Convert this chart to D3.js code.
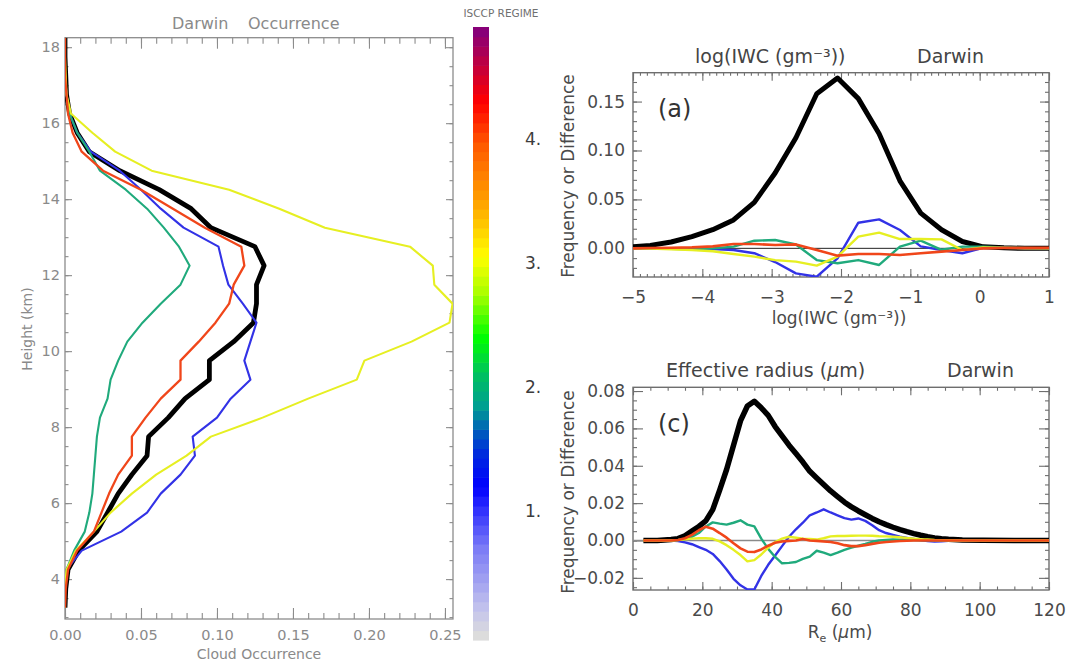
<!DOCTYPE html>
<html>
<head>
<meta charset="utf-8">
<script src="https://cdn.jsdelivr.net/npm/d3@7"></script>
<style>
  html, body { margin: 0; padding: 0; background: #fff; }
  svg { display: block; font-family: "DejaVu Sans", sans-serif; }
</style>
</head>
<body>
<svg id="fig" width="1074" height="662"></svg>
<script>
// ---------------- Cloud occurrence profiles (left panel) ----------------
const heights = [18.25, 17.75, 17.25, 16.75, 16.25, 15.75, 15.25, 14.75, 14.25, 13.75, 13.25,
                 12.75, 12.25, 11.75, 11.25, 10.75, 10.25, 9.75, 9.25, 8.75, 8.25,
                 7.75, 7.25, 6.75, 6.25, 5.75, 5.25, 4.75, 4.25, 3.75, 3.25];
const occAll     = [0, 0, 0.0005, 0.001, 0.003, 0.008, 0.016, 0.036, 0.062, 0.083, 0.096,
                    0.125, 0.131, 0.126, 0.126, 0.124, 0.111, 0.095, 0.095, 0.079, 0.068,
                    0.055, 0.054, 0.044, 0.035, 0.028, 0.021, 0.009, 0.002, 0.0005, 0];
const occRegime1 = [0, 0, 0, 0.001, 0.003, 0.008, 0.017, 0.036, 0.050, 0.063, 0.078,
                    0.101, 0.104, 0.1075, 0.117, 0.126, 0.122, 0.118, 0.122, 0.109, 0.100,
                    0.084, 0.0855, 0.076, 0.063, 0.054, 0.037, 0.011, 0.001, 0, 0];
const occRegime2 = [0, 0, 0, 0.001, 0.003, 0.008, 0.016, 0.023, 0.040, 0.054, 0.065,
                    0.075, 0.082, 0.076, 0.063, 0.051, 0.041, 0.035, 0.030, 0.028, 0.023,
                    0.021, 0.020, 0.019, 0.018, 0.016, 0.013, 0.006, 0.001, 0, 0];
const occRegime3 = [0, 0, 0.0005, 0.001, 0.004, 0.018, 0.033, 0.057, 0.108, 0.141, 0.171,
                    0.227, 0.242, 0.243, 0.255, 0.253, 0.228, 0.197, 0.192, 0.160, 0.130,
                    0.096, 0.080, 0.060, 0.044, 0.030, 0.019, 0.007, 0.001, 0, 0];
const occRegime4 = [0, 0, 0, 0.001, 0.002, 0.005, 0.011, 0.025, 0.050, 0.071, 0.092,
                    0.116, 0.118, 0.111, 0.108, 0.099, 0.088, 0.076, 0.076, 0.063, 0.053,
                    0.044, 0.044, 0.035, 0.029, 0.024, 0.019, 0.008, 0.002, 0.0005, 0];
const occTicks    = [0, 0.05, 0.10, 0.15, 0.20, 0.25];
const heightTicks = [4, 6, 8, 10, 12, 14, 16, 18];

// ---------------- log(IWC) histogram, panel (a) ----------------
const iwcBins  = [-5.0, -4.75, -4.45, -4.15, -3.85, -3.55, -3.25, -2.95, -2.65, -2.35, -2.05,
                  -1.75, -1.45, -1.15, -0.85, -0.55, -0.25, 0.05, 0.35, 0.65, 1.0];
const iwcAll   = [0.0017, 0.003, 0.0065, 0.012, 0.019, 0.029, 0.047, 0.077, 0.113, 0.158, 0.174,
                  0.153, 0.117, 0.069, 0.036, 0.019, 0.007, 0.0015, 0.0005, 0, 0];
const iwcDiff1 = [0, 0, 0, 0, -0.0008, -0.0017, -0.005, -0.014, -0.0256, -0.029, -0.0102,
                  0.0262, 0.0296, 0.0187, 0.002, -0.0017, -0.005, 0.0005, 0.0005, 0, 0];
const iwcDiff2 = [0, 0, -0.0005, -0.001, 0, 0.0017, 0.0078, 0.0085, 0.004, -0.012, -0.0153,
                  -0.012, -0.017, 0.0017, 0.0078, -0.0015, 0.0017, 0.0017, 0.001, 0.0005, 0];
const iwcDiff3 = [0, -0.0003, -0.001, -0.0018, -0.003, -0.0058, -0.0085, -0.012, -0.0136, -0.0177, -0.0085,
                  0.012, 0.016, 0.0095, 0.0095, 0.0092, -0.0017, 0.001, 0.0005, 0, 0];
const iwcDiff4 = [0, 0.0003, 0.0006, 0.001, 0.002, 0.0044, 0.0044, 0.0034, 0.004, -0.0017, -0.0075,
                  -0.0058, -0.0058, -0.0068, -0.0051, -0.0034, -0.0017, 0, 0.0005, 0.0005, 0.0005];
const iwcTicks     = [-5, -4, -3, -2, -1, 0, 1];
const iwcFreqTicks = [0, 0.05, 0.10, 0.15];

// ---------------- Effective radius histogram, panel (c) ----------------
const reBins  = [3, 7, 11, 13, 15, 17, 19, 21, 23, 25, 27, 29, 31, 33, 35, 37, 39, 41, 43, 45,
                 47, 49, 51, 53, 55, 57, 59, 61, 63, 65, 67, 69, 71, 73, 75, 77, 79, 81, 83, 85,
                 87, 89, 91, 95, 101, 110, 120];
const reAll   = [0, 0, 0.0005, 0.001, 0.0025, 0.005, 0.0075, 0.0105, 0.0165, 0.027, 0.038, 0.051,
                 0.064, 0.072, 0.0745, 0.071, 0.067, 0.061, 0.056, 0.051, 0.0465, 0.042, 0.037,
                 0.0335, 0.030, 0.0265, 0.0235, 0.0205, 0.018, 0.0158, 0.0138, 0.0118, 0.010,
                 0.0085, 0.0071, 0.0058, 0.0047, 0.0037, 0.0028, 0.002, 0.0014, 0.001, 0.0007,
                 0.0003, 0.0001, 0, 0];
const reDiff1 = [0, 0, 0, -0.0003, -0.001, -0.002, -0.0035, -0.005, -0.0072, -0.011, -0.0155, -0.0205,
                 -0.024, -0.0262, -0.0262, -0.019, -0.013, -0.008, -0.003, 0.002, 0.006, 0.0095, 0.0135,
                 0.015, 0.0167, 0.015, 0.0135, 0.012, 0.0112, 0.0118, 0.0105, 0.0082, 0.0055,
                 0.004, 0.003, 0.002, 0.0014, 0.0008, 0.0002, -0.0003, -0.0005, -0.0004, -0.0002,
                 0, 0, 0, 0];
const reDiff2 = [0, 0, 0, 0.0003, 0.0008, 0.002, 0.004, 0.0075, 0.0097, 0.009, 0.0085, 0.0095,
                 0.0108, 0.0085, 0.0076, 0.001, -0.0045, -0.0088, -0.0122, -0.012, -0.0115, -0.0098,
                 -0.0086, -0.0055, -0.0065, -0.0078, -0.0065, -0.005, -0.0038, -0.0028, -0.0018,
                 -0.0007, 0, 0.0003, 0.0005, 0.0004, 0.0003, 0.0002, 0.0001, 0.0001, 0, 0, 0,
                 0, 0, 0, 0];
const reDiff3 = [0, 0, 0, 0.0002, 0.0006, 0.001, 0.0012, 0.0012, 0.0009, -0.0005, -0.0025, -0.005,
                 -0.0078, -0.0112, -0.0105, -0.0075, -0.0038, -0.0008, 0.001, 0.002, 0.0015, 0.001,
                 0.0008, 0.0005, 0.0012, 0.0022, 0.0024, 0.0024, 0.0025, 0.0026, 0.0026, 0.0025,
                 0.0023, 0.0022, 0.002, 0.0017, 0.0013, 0.001, 0.0007, 0.0005, 0.0003, 0.0002,
                 0.0001, 0, 0, 0, 0];
const reDiff4 = [0, 0, 0, 0.0003, 0.0012, 0.003, 0.0055, 0.0074, 0.0063, 0.004, 0.0015, -0.0015,
                 -0.0042, -0.006, -0.0062, -0.0048, -0.0028, -0.0012, -0.0005, -0.0002, 0, 0.0008,
                 0, -0.0002, -0.0005, -0.0008, -0.0015, -0.0025, -0.003, -0.003, -0.0025, -0.0018,
                 -0.0012, -0.0008, -0.0005, -0.0003, -0.0001, 0, 0, 0, 0, 0, 0, 0, 0, 0, 0];
const reTicks     = [0, 20, 40, 60, 80, 100, 120];
const reFreqTicks = [-0.02, 0, 0.02, 0.04, 0.06, 0.08];

// ---------------- ISCCP regime colour bar ----------------
const regimeTicks  = [1, 2, 3, 4];
const regimeStops  = [0, 0.2, 0.7, 0.95, 1.2, 1.45, 1.6, 1.85, 2.1, 2.4, 2.75, 3.05, 3.5, 3.95, 4.3, 4.6, 4.9];
const regimeColors = ["#dcdcdc", "#c4c4ec", "#7c7cf6", "#4040fc", "#0000ff", "#0028e0", "#0050c4",
                      "#00a090", "#00c060", "#00ff00", "#a8ff00", "#ffff00", "#ffa000", "#ff5a00",
                      "#ff0000", "#c00040", "#800080"];

const colAll = "#000000", col1 = "#3232e6", col2 = "#20aa7c", col3 = "#e6ef22", col4 = "#f0461a";

const svg = d3.select("#fig");
const defs = svg.append("defs");

function styleAxis(sel, color, width, textColor, fontSize) {
  sel.select(".domain").remove();
  sel.selectAll(".tick line").attr("stroke", color).attr("stroke-width", width);
  sel.selectAll(".tick text").attr("fill", textColor).attr("font-size", fontSize)
     .attr("font-family", '"DejaVu Sans", sans-serif');
}

function minorValues(domain, step) {
  const lo = Math.ceil(domain[0] / step - 1e-6) * step;
  return d3.range(lo, domain[1] + 1e-9, step);
}

// Frame with inward ticks on all four sides; labels on bottom and left.
function buildPanel(cfg) {
  const x = d3.scaleLinear().domain(cfg.xDomain).range([cfg.left, cfg.right]);
  const y = d3.scaleLinear().domain(cfg.yDomain).range([cfg.bottom, cfg.top]);
  const g = svg.append("g");

  defs.append("clipPath").attr("id", cfg.id + "-clip")
    .append("rect").attr("x", cfg.left).attr("y", cfg.top)
    .attr("width", cfg.right - cfg.left).attr("height", cfg.bottom - cfg.top);

  const xMin = minorValues(cfg.xDomain, cfg.xMinorStep);
  const yMin = minorValues(cfg.yDomain, cfg.yMinorStep);
  const ax = (gen, tr, vals, len, fmt, pad) => {
    const a = gen.tickValues(vals).tickSize(-len).tickPadding(pad || 0);
    if (fmt) a.tickFormat(fmt); else a.tickFormat("");
    g.append("g").attr("transform", tr).call(a)
      .call(s => styleAxis(s, cfg.axisColor, cfg.tickWidth, cfg.textColor, cfg.tickFont));
  };
  // minor ticks
  ax(d3.axisBottom(x), `translate(0,${cfg.bottom})`, xMin, cfg.xMinorLen);
  ax(d3.axisTop(x),    `translate(0,${cfg.top})`,    xMin, cfg.xMinorLen);
  ax(d3.axisLeft(y),   `translate(${cfg.left},0)`,   yMin, cfg.yMinorLen);
  ax(d3.axisRight(y),  `translate(${cfg.right},0)`,  yMin, cfg.yMinorLen);
  // major ticks
  ax(d3.axisBottom(x), `translate(0,${cfg.bottom})`, cfg.xTicks, cfg.xMajorLen, cfg.xFormat, cfg.xPad);
  ax(d3.axisTop(x),    `translate(0,${cfg.top})`,    cfg.xTicks, cfg.xMajorLen);
  ax(d3.axisLeft(y),   `translate(${cfg.left},0)`,   cfg.yTicks, cfg.yMajorLen, cfg.yFormat, cfg.yPad);
  ax(d3.axisRight(y),  `translate(${cfg.right},0)`,  cfg.yTicks, cfg.yMajorLen);

  g.append("rect").attr("x", cfg.left).attr("y", cfg.top)
    .attr("width", cfg.right - cfg.left).attr("height", cfg.bottom - cfg.top)
    .attr("fill", "none").attr("stroke", cfg.axisColor).attr("stroke-width", cfg.frameWidth);

  const plot = svg.append("g").attr("clip-path", `url(#${cfg.id}-clip)`);
  return { x, y, g, plot };
}

// ---------------- Left panel: occurrence vs height ----------------
const L = buildPanel({
  id: "occ", left: 65, right: 453, top: 37.7, bottom: 619,
  xDomain: [0, 0.2553], yDomain: [2.95, 18.25],
  xTicks: occTicks, yTicks: heightTicks,
  xFormat: d3.format(".2f"), yFormat: d3.format("d"),
  xMinorStep: 0.01, yMinorStep: 0.5,
  xMajorLen: 11, xMinorLen: 6, yMajorLen: 7, yMinorLen: 3.5,
  xPad: 11, yPad: 5,
  axisColor: "#8c8c8c", textColor: "#8a8a8a", tickFont: 14.5, tickWidth: 1.1, frameWidth: 1.3
});
const profile = d3.line().x(d => L.x(d[0])).y(d => L.y(d[1]));
[[occAll, colAll, 4.8], [occRegime1, col1, 2.1], [occRegime2, col2, 2.1],
 [occRegime3, col3, 2.1], [occRegime4, col4, 2.3]].forEach(([vals, c, w]) => {
  L.plot.append("path").datum(vals.map((v, i) => [v, heights[i]]))
    .attr("d", profile).attr("fill", "none").attr("stroke", c).attr("stroke-width", w)
    .attr("stroke-linejoin", "round");
});
svg.append("text").attr("x", 172).attr("y", 29).attr("font-size", 16).attr("fill", "#8a8a8a").text("Darwin");
svg.append("text").attr("x", 248).attr("y", 29).attr("font-size", 16).attr("fill", "#8a8a8a").text("Occurrence");
svg.append("text").attr("x", 259).attr("y", 659).attr("text-anchor", "middle")
  .attr("font-size", 14).attr("fill", "#8a8a8a").text("Cloud Occurrence");
svg.append("text").attr("transform", "translate(32,329) rotate(-90)").attr("text-anchor", "middle")
  .attr("font-size", 14).attr("fill", "#8a8a8a").text("Height (km)");

// ---------------- Colour bar ----------------
const cb = d3.scaleLinear().domain([-0.04, 4.9]).range([640, 27]);
const cbColor = d3.scaleLinear().domain(regimeStops).range(regimeColors).interpolate(d3.interpolateRgb);
const nBands = 64;
const bandEdges = d3.range(nBands + 1).map(i => cb.domain()[0] + i * (cb.domain()[1] - cb.domain()[0]) / nBands);
svg.append("g").selectAll("rect").data(d3.range(nBands)).join("rect")
  .attr("x", 473).attr("width", 16)
  .attr("y", i => cb(bandEdges[i + 1]))
  .attr("height", i => cb(bandEdges[i]) - cb(bandEdges[i + 1]) + 0.6)
  .attr("fill", i => cbColor((bandEdges[i] + bandEdges[i + 1]) / 2));
svg.append("text").attr("x", 501).attr("y", 17).attr("text-anchor", "middle")
  .attr("font-size", 10.5).attr("fill", "#707070").text("ISCCP REGIME");
svg.append("g").selectAll("text").data(regimeTicks).join("text")
  .attr("x", 525).attr("y", d => cb(d) + 6).attr("font-size", 17).attr("fill", "#3c3c3c")
  .text(d => d + ".");

// ---------------- Panel (a): log(IWC) ----------------
const A = buildPanel({
  id: "iwc", left: 633, right: 1049, top: 72.7, bottom: 277,
  xDomain: [-5, 1], yDomain: [-0.0293, 0.1795],
  xTicks: iwcTicks, yTicks: iwcFreqTicks,
  xFormat: d3.format("d"), yFormat: d3.format(".2f"),
  xMinorStep: 0.1, yMinorStep: 0.01,
  xMajorLen: 8, xMinorLen: 3, yMajorLen: 9, yMinorLen: 4,
  xPad: 14, yPad: 8,
  axisColor: "#6e6e6e", textColor: "#4a4a4a", tickFont: 17, tickWidth: 1.1, frameWidth: 1.4
});
A.plot.append("line").attr("x1", A.x(-5)).attr("x2", A.x(1)).attr("y1", A.y(0)).attr("y2", A.y(0))
  .attr("stroke", "#222").attr("stroke-width", 1);
const iwcLine = d3.line().x(d => A.x(d[0])).y(d => A.y(d[1]));
[[iwcAll, colAll, 5], [iwcDiff1, col1, 2.4], [iwcDiff2, col2, 2.4],
 [iwcDiff3, col3, 2.4], [iwcDiff4, col4, 2.6]].forEach(([vals, c, w]) => {
  A.plot.append("path").datum(vals.map((v, i) => [iwcBins[i], v]))
    .attr("d", iwcLine).attr("fill", "none").attr("stroke", c).attr("stroke-width", w)
    .attr("stroke-linejoin", "round");
});
svg.append("text").attr("x", 658).attr("y", 117).attr("font-size", 24).attr("fill", "#333").text("(a)");
svg.append("text").attr("x", 695).attr("y", 63).attr("font-size", 19).attr("fill", "#444").text("log(IWC (gm⁻³))");
svg.append("text").attr("x", 917).attr("y", 63).attr("font-size", 19).attr("fill", "#444").text("Darwin");
svg.append("text").attr("x", 839).attr("y", 324).attr("text-anchor", "middle")
  .attr("font-size", 17).attr("fill", "#4a4a4a").text("log(IWC (gm⁻³))");
svg.append("text").attr("transform", "translate(574,176) rotate(-90)").attr("text-anchor", "middle")
  .attr("font-size", 17).attr("fill", "#4a4a4a").text("Frequency or Difference");

// ---------------- Panel (c): effective radius ----------------
const C = buildPanel({
  id: "re", left: 633, right: 1049, top: 387.3, bottom: 590,
  xDomain: [0, 120], yDomain: [-0.0265, 0.082],
  xTicks: reTicks, yTicks: reFreqTicks,
  xFormat: d3.format("d"), yFormat: d3.format(".2f"),
  xMinorStep: 5, yMinorStep: 0.005,
  xMajorLen: 8, xMinorLen: 3.5, yMajorLen: 10, yMinorLen: 4,
  xPad: 14, yPad: 8,
  axisColor: "#6e6e6e", textColor: "#4a4a4a", tickFont: 17, tickWidth: 1.1, frameWidth: 1.4
});
C.plot.append("line").attr("x1", C.x(0)).attr("x2", C.x(120)).attr("y1", C.y(0)).attr("y2", C.y(0))
  .attr("stroke", "#8a8a8a").attr("stroke-width", 1.6);
const reLine = d3.line().x(d => C.x(d[0])).y(d => C.y(d[1]));
[[reAll, colAll, 5.5], [reDiff1, col1, 2.4], [reDiff2, col2, 2.4],
 [reDiff3, col3, 2.4], [reDiff4, col4, 2.6]].forEach(([vals, c, w]) => {
  C.plot.append("path").datum(vals.map((v, i) => [reBins[i], v]))
    .attr("d", reLine).attr("fill", "none").attr("stroke", c).attr("stroke-width", w)
    .attr("stroke-linejoin", "round");
});
svg.append("text").attr("x", 658).attr("y", 432).attr("font-size", 24).attr("fill", "#333").text("(c)");
const tc = svg.append("text").attr("x", 666).attr("y", 377).attr("font-size", 19).attr("fill", "#444");
tc.append("tspan").text("Effective radius (");
tc.append("tspan").attr("font-style", "italic").text("μ");
tc.append("tspan").text("m)");
svg.append("text").attr("x", 947).attr("y", 377).attr("font-size", 19).attr("fill", "#444").text("Darwin");
const xl = svg.append("text").attr("x", 840).attr("y", 638).attr("text-anchor", "middle")
  .attr("font-size", 17).attr("fill", "#4a4a4a");
xl.append("tspan").text("R");
xl.append("tspan").attr("font-size", 11).attr("dy", 4).text("e");
xl.append("tspan").attr("dy", -4).text(" (");
xl.append("tspan").attr("font-style", "italic").text("μ");
xl.append("tspan").text("m)");
svg.append("text").attr("transform", "translate(574,492) rotate(-90)").attr("text-anchor", "middle")
  .attr("font-size", 17).attr("fill", "#4a4a4a").text("Frequency or Difference");
</script>
</body>
</html>
